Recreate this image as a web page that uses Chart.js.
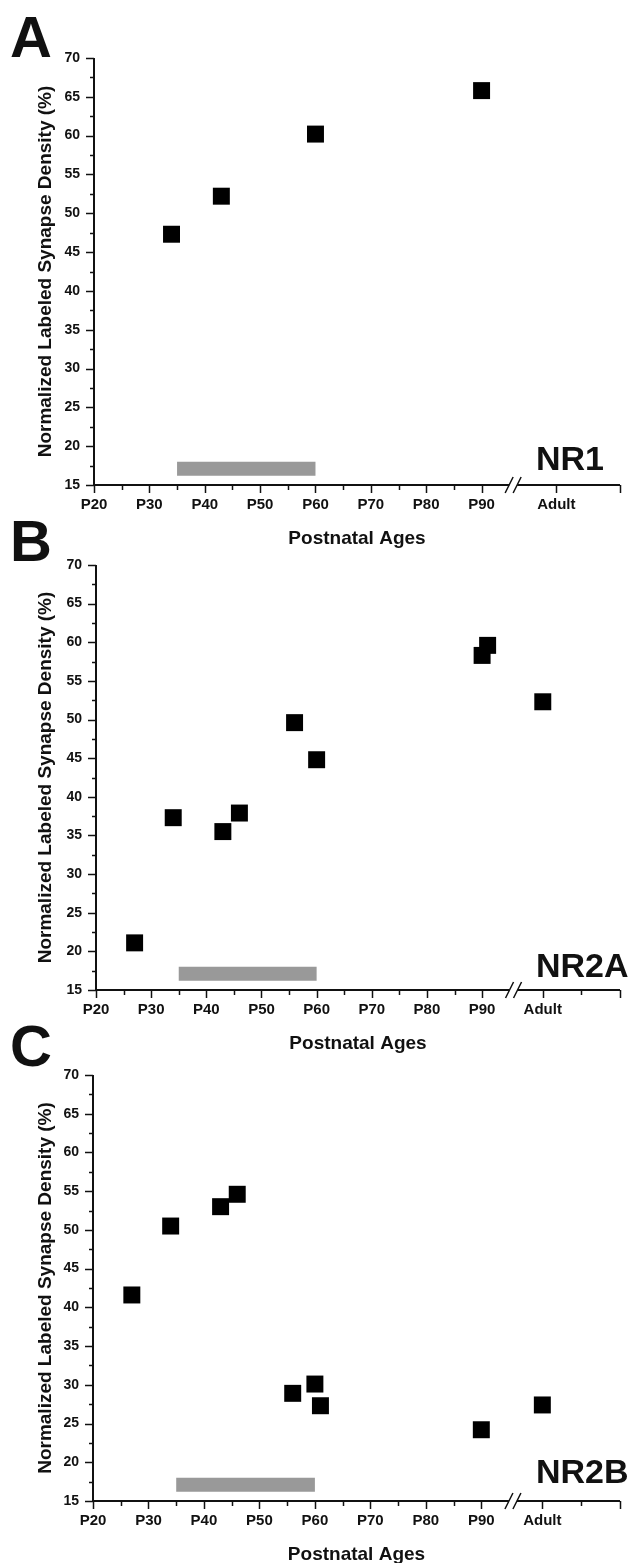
<!DOCTYPE html>
<html>
<head>
<meta charset="utf-8">
<script src="https://cdn.jsdelivr.net/npm/chart.js@4"></script>
<style>
  html, body { margin: 0; padding: 0; background: #fff; overflow: hidden; }
  body { width: 632px; height: 1563px; position: relative; }
  canvas { position: absolute; left: 0; }
</style>
</head>
<body>
<canvas id="panelA"></canvas>
<canvas id="panelB"></canvas>
<canvas id="panelC"></canvas>
<script>
// ---- data ----
const panelLetters = ["A", "B", "C"];
const receptorNames = ["NR1", "NR2A", "NR2B"];

const xTickValues = [20, 30, 40, 50, 60, 70, 80, 90];
const xTickLabels = ["P20", "P30", "P40", "P50", "P60", "P70", "P80", "P90"];
const adultLabel = "Adult";
const adultPositions = [103.5, 101, 101]; // where "Adult" sits after the axis break
const afterBreakMinor = [[], [108], [108]];
const axisBreakAt = 95.7;
const xMin = 20;
const xMax = 115;

const yMin = 15;
const yMax = 70;
const yStep = 5;

const criticalStart = 35;
const criticalEnd = 60;
const criticalLevel = 17.1;

const nr1Ages = [34, 43, 60, 90];
const nr1Density = [47.3, 52.2, 60.2, 65.8];

const nr2aAges = [27, 34, 43, 46, 56, 60, 90, 91, "Adult"];
const nr2aDensity = [21.1, 37.3, 35.5, 37.9, 49.6, 44.8, 58.3, 59.6, 52.3];

const nr2bAges = [27, 34, 43, 46, 56, 60, 61, 90, "Adult"];
const nr2bDensity = [41.6, 50.5, 53.0, 54.6, 28.9, 30.1, 27.3, 24.2, 27.4];

const yTitle = "Normalized Labeled Synapse Density (%)";
const xTitle = "Postnatal Ages";

// ---- page layout ----
const FONT = "'Liberation Sans', Arial, Helvetica, sans-serif";
const INK = "#111";
const layouts = [
  { top: 0, height: 560, chartTop: 58, chartBottom: 485, chartLeft: 94, chartRight: 628, letterBase: 57, tagDrop: 15 },
  { top: 505, height: 560, chartTop: 565, chartBottom: 990, chartLeft: 96, chartRight: 628, letterBase: 561, tagDrop: 13 },
  { top: 1003, height: 575, chartTop: 1075, chartBottom: 1501, chartLeft: 93, chartRight: 627, letterBase: 1066, tagDrop: 18 }
];
const seriesAges = [nr1Ages, nr2aAges, nr2bAges];
const seriesDensity = [nr1Density, nr2aDensity, nr2bDensity];

function decorPlugin(i, adultPos) {
  const lay = layouts[i];
  return {
    id: "decor" + i,
    afterDraw(chart) {
      const { ctx, chartArea, scales } = chart;
      const xs = scales.x, ys = scales.y;
      const L = chartArea.left, R = chartArea.right, B = chartArea.bottom, T = chartArea.top;
      ctx.save();
      ctx.strokeStyle = INK;
      ctx.lineWidth = 2;
      ctx.lineCap = "butt";
      // axes
      const bx = xs.getPixelForValue(axisBreakAt);
      ctx.beginPath();
      ctx.moveTo(L, T);
      ctx.lineTo(L, B + 1);
      ctx.moveTo(L - 1, B);
      ctx.lineTo(bx - 4, B);
      ctx.moveTo(bx + 4, B);
      ctx.lineTo(R, B);
      ctx.stroke();
      // y ticks
      ctx.lineWidth = 1.5;
      ctx.beginPath();
      for (let v = yMin; v <= yMax + 0.01; v += yStep / 2) {
        const py = Math.round(ys.getPixelForValue(v)) + 0.5;
        const len = (v - yMin) % yStep === 0 ? 8 : 4;
        ctx.moveTo(L - len, py);
        ctx.lineTo(L, py);
      }
      // x ticks
      const majors = xTickValues.concat([adultPos, xMax]);
      const minors = [];
      for (let v = 25; v < 90; v += 10) minors.push(v);
      afterBreakMinor[i].forEach(v => minors.push(v));
      majors.forEach(v => {
        const px = Math.round(xs.getPixelForValue(v)) + 0.5;
        ctx.moveTo(px, B);
        ctx.lineTo(px, B + 8);
      });
      minors.forEach(v => {
        const px = Math.round(xs.getPixelForValue(v)) + 0.5;
        ctx.moveTo(px, B);
        ctx.lineTo(px, B + 5);
      });
      ctx.stroke();
      // axis break marks
      ctx.lineWidth = 1.5;
      ctx.beginPath();
      [-4, 4].forEach(d => {
        ctx.moveTo(bx + d - 4, B + 8);
        ctx.lineTo(bx + d + 4, B - 8);
      });
      ctx.stroke();
      // panel letter and receptor tag
      ctx.fillStyle = INK;
      ctx.textAlign = "left";
      ctx.textBaseline = "alphabetic";
      ctx.font = "bold 58px " + FONT;
      ctx.fillText(panelLetters[i], 10, lay.letterBase - lay.top);
      ctx.font = "bold 34px " + FONT;
      ctx.fillText(receptorNames[i], 536, B - lay.tagDrop);
      ctx.restore();
    }
  };
}

layouts.forEach((lay, i) => {
  const canvas = document.getElementById("panel" + panelLetters[i]);
  canvas.width = 632;
  canvas.height = lay.height;
  canvas.style.top = lay.top + "px";
  const adultPos = adultPositions[i];
  const points = seriesAges[i].map((age, k) => ({
    x: age === adultLabel ? adultPos : age,
    y: seriesDensity[i][k]
  }));
  const chartTop = lay.chartTop - lay.top;
  const chartBottom = lay.chartBottom - lay.top;
  const xBoxHeight = lay.height - chartBottom;

  new Chart(canvas, {
    type: "scatter",
    data: {
      datasets: [
        {
          type: "line",
          data: [{ x: criticalStart, y: criticalLevel }, { x: criticalEnd, y: criticalLevel }],
          borderColor: "#999999",
          borderWidth: 14,
          borderCapStyle: "butt",
          pointRadius: 0,
          fill: false
        },
        {
          data: points,
          pointStyle: "rect",
          pointRadius: 12,
          pointBorderWidth: 0,
          backgroundColor: "#000",
          borderColor: "#000"
        }
      ]
    },
    options: {
      responsive: false,
      animation: false,
      devicePixelRatio: 1,
      layout: { padding: { top: chartTop, right: 632 - lay.chartRight, bottom: 0, left: 0 } },
      plugins: { legend: { display: false }, tooltip: { enabled: false } },
      scales: {
        x: {
          type: "linear",
          min: xMin,
          max: xMax,
          grid: { display: false, drawTicks: false },
          border: { display: false },
          afterBuildTicks: (scale) => {
            scale.ticks = xTickValues.concat([adultPos]).map(v => ({ value: v }));
          },
          afterFit: (scale) => { scale.height = xBoxHeight; },
          ticks: {
            autoSkip: false,
            maxRotation: 0,
            padding: 11,
            color: INK,
            font: { family: FONT, size: 15, weight: "bold" },
            callback: (value) => value === adultPos ? adultLabel : xTickLabels[xTickValues.indexOf(value)]
          },
          title: {
            display: true,
            text: xTitle,
            color: INK,
            font: { family: FONT, size: 19, weight: "bold" },
            padding: { top: 0, bottom: xBoxHeight - 54 - 11.4 }
          }
        },
        y: {
          min: yMin,
          max: yMax,
          grid: { display: false, drawTicks: false },
          border: { display: false },
          afterFit: (scale) => { scale.width = lay.chartLeft; },
          ticks: {
            stepSize: yStep,
            padding: 14,
            color: INK,
            font: { family: FONT, size: 14, weight: "bold" }
          },
          title: {
            display: true,
            text: yTitle,
            color: INK,
            font: { family: FONT, size: 19, weight: "bold" },
            padding: { top: 34.6, bottom: 0 }
          }
        }
      }
    },
    plugins: [decorPlugin(i, adultPos)]
  });
});
</script>
</body>
</html>
